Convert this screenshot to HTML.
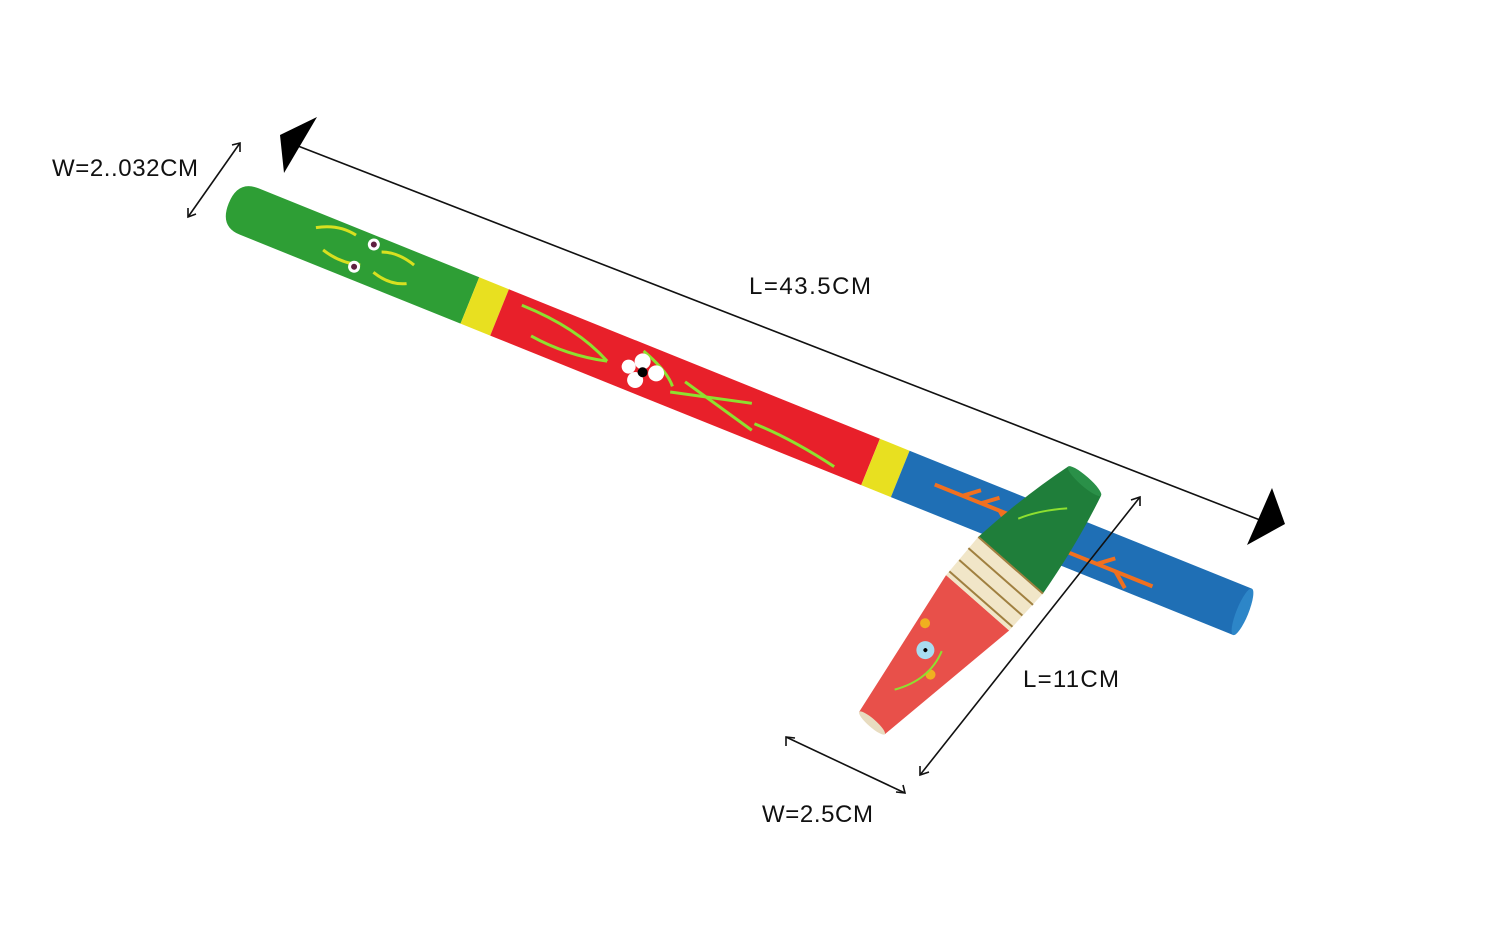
<!DOCTYPE html>
<html><head><style>
html,body{margin:0;padding:0;background:#fff;}
svg{display:block}
text{font-family:"Liberation Sans",sans-serif;font-size:24px;fill:#111}
</style></head><body>
<svg width="1500" height="936" viewBox="0 0 1500 936" xmlns="http://www.w3.org/2000/svg">
<!-- long stick -->
<g transform="translate(238,207) rotate(21.95)">
  <path d="M12,-25 L250,-25 L250,25 L12,25 Q-10,25 -10,0 Q-10,-25 12,-25Z" fill="#2e9e35"/>
  <rect x="250" y="-25" width="32" height="50" fill="#e8e020"/>
  <rect x="282" y="-25" width="400" height="50" fill="#e8202a"/>
  <rect x="682" y="-25" width="32" height="50" fill="#e8e020"/>
  <rect x="714" y="-25" width="369" height="50" fill="#1f6fb5"/>
  <ellipse cx="1083" cy="0" rx="6" ry="25" fill="#2d86c8"/>
  <g stroke="#d8e020" stroke-width="3" fill="none">
    <path d="M80,-10 q20,-12 40,-8"/><path d="M95,8 q20,6 40,0"/><path d="M150,-12 q15,-6 35,0"/><path d="M150,10 q20,6 35,-2"/>
  </g>
  <g stroke="#8ee030" stroke-width="3" fill="none">
    <path d="M300,-15 q60,0 100,20"/><path d="M320,10 q40,5 80,-5"/><path d="M430,-18 q30,10 40,22"/><path d="M470,10 q40,-10 80,-20"/><path d="M480,-5 q40,10 80,20"/><path d="M560,8 q40,0 90,10"/>
  </g>
  <circle cx="140" cy="-16" r="6" fill="#fff"/><circle cx="140" cy="-16" r="3" fill="#602040"/>
  <circle cx="130" cy="12" r="6" fill="#fff"/><circle cx="130" cy="12" r="3" fill="#602040"/>
  <circle cx="433" cy="-8" r="8" fill="#fff"/><circle cx="433" cy="12" r="8" fill="#fff"/><circle cx="450" cy="-2" r="8" fill="#fff"/><circle cx="422" cy="2" r="7" fill="#fff"/><circle cx="437" cy="2" r="5" fill="#000"/>
  <g stroke="#f07020" stroke-width="4" fill="none">
    <path d="M750,-3 L850,-3"/><path d="M780,-3 l15,-12"/><path d="M800,-3 l15,-12"/><path d="M820,-3 l15,12"/>
    <path d="M900,10 L990,10"/><path d="M930,10 l15,-12"/><path d="M950,10 l15,12"/>
  </g>
</g>
<!-- spindle -->
<g transform="translate(872,723) rotate(-48.7)">
  <path d="M0,-17 L160,-42 L160,42 L0,17Z" fill="#e8504a"/>
  <path d="M160,-42 L210,-43 L210,43 L160,42Z" fill="#f1e6c8"/>
  <path d="M210,-43 Q270,-36 322,-22 L322,22 Q270,36 210,43Z" fill="#1f7e3a"/>
  <g stroke="#a08040" stroke-width="2"><line x1="165" y1="-42" x2="165" y2="42"/><line x1="180" y1="-42" x2="180" y2="42"/><line x1="195" y1="-43" x2="195" y2="43"/><line x1="210" y1="-43" x2="210" y2="43"/></g>
  <ellipse cx="322" cy="0" rx="5" ry="22" fill="#2a9048"/>
  <ellipse cx="0" cy="0" rx="4" ry="17" fill="#e8dcc0"/>
  <circle cx="90" cy="-8" r="9" fill="#a8dcf0"/><circle cx="90" cy="-8" r="2" fill="#000"/>
  <circle cx="110" cy="-26" r="5" fill="#f0b020"/><circle cx="75" cy="12" r="5" fill="#f0b020"/>
  <g stroke="#8ee030" stroke-width="2" fill="none"><path d="M40,-5 q30,20 60,10"/><path d="M250,-25 q20,10 40,30"/></g>
</g>
<!-- dimension lines -->
<g stroke="#111" stroke-width="1.6">
  <line x1="298" y1="146" x2="1260" y2="520"/>
  <line x1="240" y1="143" x2="188" y2="217"/>
  <line x1="786" y1="737" x2="905" y2="793"/>
  <line x1="1140" y1="497" x2="920" y2="775"/>
</g>
<g fill="#000">
  <polygon points="280,135 317,117 284,173"/>
  <polygon points="1272,488 1285,524 1247,545"/>
</g>
<g stroke="#111" stroke-width="1.6" fill="none">
  <polyline points="232,145 240,143 240,152"/><polyline points="188,208 188,217 196,214"/>
  <polyline points="786,746 786,737 795,738"/><polyline points="896,792 905,793 903,785"/>
  <polyline points="1131,500 1140,497 1140,506"/><polyline points="920,766 920,775 929,772"/>
</g>
<text x="52" y="176" textLength="146">W=2..032CM</text>
<text x="749" y="294" textLength="122">L=43.5CM</text>
<text x="1023" y="687" textLength="96">L=11CM</text>
<text x="762" y="822" textLength="111">W=2.5CM</text>
</svg>
</body></html>
